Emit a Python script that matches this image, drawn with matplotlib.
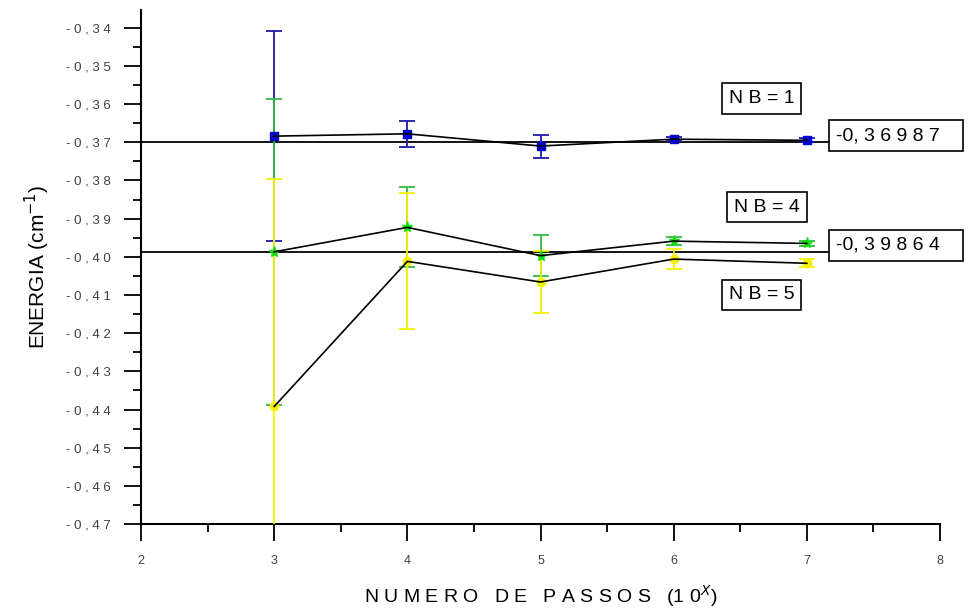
import matplotlib
matplotlib.use("Agg")
import matplotlib.pyplot as plt

plt.rcParams['font.family'] = ['Liberation Sans', 'DejaVu Sans']

# numero de passos (10^x)
passos = [3, 4, 5, 6, 7]

# NB = 1
e_nb1 = [-0.3684, -0.3678, -0.3710, -0.3692, -0.3695]
err_nb1 = [0.0274, 0.0034, 0.0030, 0.0006, 0.0005]
# NB = 4
e_nb4 = [-0.3987, -0.3923, -0.3997, -0.3959, -0.3965]
err_nb4 = [0.0400, 0.0105, 0.0054, 0.0010, 0.0006]
# NB = 5
e_nb5 = [-0.4392, -0.4012, -0.4066, -0.4006, -0.4017]
err_nb5 = [0.0595, 0.0178, 0.0082, 0.0026, 0.0010]

ref_vals = [-0.36987, -0.39864]
ref_labels = ['-0,36987', '-0,39864']

y_ticks = [-0.34, -0.35, -0.36, -0.37, -0.38, -0.39, -0.40, -0.41, -0.42,
           -0.43, -0.44, -0.45, -0.46, -0.47]
x_ticks = [2, 3, 4, 5, 6, 7, 8]


def spaced(s):
    return ' '.join(s)


fig = plt.figure(figsize=(9.73, 6.08), dpi=100)
ax = fig.add_axes([0.145, 0.138, 0.821, 0.846])

# reference lines
for v in ref_vals:
    ax.hlines(v, 2, 7.17, color='black', lw=1.3, zorder=2)

# error bars (blue, green, yellow on top)
ax.errorbar(passos, e_nb1, yerr=err_nb1, fmt='none', ecolor='#1a1aa8',
            elinewidth=1.3, capsize=6, capthick=1.3, zorder=3)
ax.errorbar(passos, e_nb4, yerr=err_nb4, fmt='none', ecolor='#33bb44',
            elinewidth=1.3, capsize=6, capthick=1.3, zorder=3)
ax.errorbar(passos, e_nb5, yerr=err_nb5, fmt='none', ecolor='#f2f200',
            elinewidth=1.3, capsize=6, capthick=1.3, zorder=3)

# markers
ax.plot(passos, e_nb1, 's', color='#0000cc', ms=6, zorder=4)
ax.plot(passos, e_nb4, '*', color='#11dd11', ms=8, zorder=4)
ax.plot(passos, e_nb5, 'o', color='#f2f200', ms=6, zorder=4)

# connecting lines
for e in (e_nb1, e_nb4, e_nb5):
    ax.plot(passos, e, color='black', lw=1.2, zorder=5)

ax.set_xlim(2, 8)
ax.set_ylim(-0.47, -0.3353)
ax.set_xticks(x_ticks)
ax.set_xticklabels([str(t) for t in x_ticks], fontsize=9, color='#404040')
ax.set_xticks([2.5, 3.5, 4.5, 5.5, 6.5, 7.5], minor=True)
ax.set_yticks(y_ticks)
ax.set_yticklabels([spaced(('%.2f' % t).replace('.', ',')) for t in y_ticks],
                   fontsize=9.5, color='#404040')
ax.set_yticks([t - 0.005 for t in y_ticks[:-1]], minor=True)
ax.tick_params(which='major', direction='out', length=12, width=1.3, pad=10)
ax.tick_params(which='minor', direction='out', length=6, width=1.3)

ax.spines['top'].set_visible(False)
ax.spines['right'].set_visible(False)
ax.spines['left'].set_linewidth(1.5)
ax.spines['bottom'].set_linewidth(1.5)

ax.set_ylabel('ENERGIA (cm$^{-1}$)', fontsize=15, labelpad=10)
ax.set_xlabel(spaced('NUMERO') + '   ' + spaced('DE') + '   ' + spaced('PASSOS')
              + '   (1 0$^{X}$)', fontsize=14, labelpad=12)

box = dict(boxstyle='square,pad=0.35', facecolor='white', edgecolor='black', lw=1.2)
ax.text(6.66, -0.3585, 'N B = 1', fontsize=14, ha='center', va='center', bbox=box)
ax.text(6.70, -0.3870, 'N B = 4', fontsize=14, ha='center', va='center', bbox=box)
ax.text(6.66, -0.4100, 'N B = 5', fontsize=14, ha='center', va='center', bbox=box)

for v, lab in zip(ref_vals, ref_labels):
    head, tail = lab.split(',')
    ax.text(7.22, v + 0.0016, head + ', ' + spaced(tail) + '   ', fontsize=14,
            ha='left', va='center', bbox=box, clip_on=False)

fig.savefig('out.png', dpi=100)
